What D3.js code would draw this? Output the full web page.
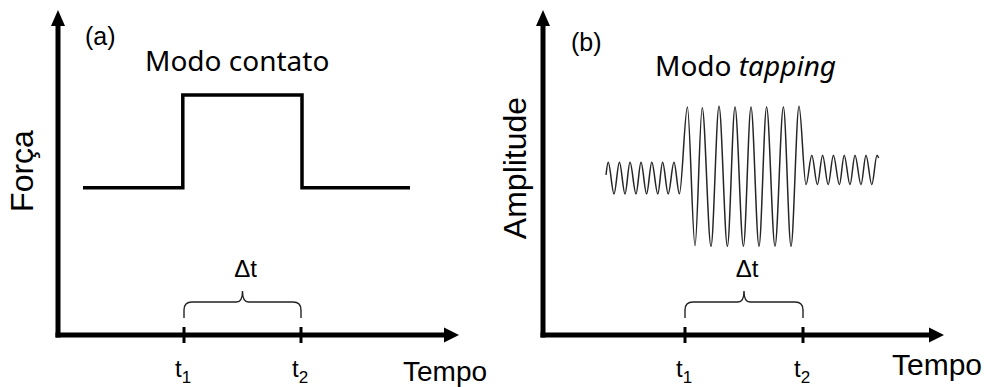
<!DOCTYPE html>
<html lang="pt">
<head>
  <meta charset="UTF-8" />
  <title>Modo contato / Modo tapping</title>
  <script src="https://d3js.org/d3.v7.min.js"></script>
  <style>
    body { margin: 0; background: #fff; }
    svg { display: block; }
    .lbl { font-family: 'Liberation Sans', Arial, sans-serif; fill: #000; }
    .title { font-family: 'Comic Sans MS', 'Noto Sans', sans-serif; fill: #000; }
  </style>
</head>
<body>
<div id="chart"></div>
<script>
  // (a) contact mode: force step, time in % of axis, force in % of axis height
  const forceTime = [6.25, 31.2, 61, 88];
  const forceLevel = [46, 75, 46, 46];

  // (b) tapping mode: extrema of the oscillation
  const ampTime = [15.75, 16.3, 17.75, 19.1, 20.5, 21.75, 23.25, 24.5, 25.9, 27.2, 28.7, 29.9, 31.3, 32.75, 34.1,
    36.1, 38, 39.8, 42, 44, 46.1, 48, 50.1, 52, 54, 55.9, 58, 60.1, 62, 64,
    65.75, 67.2, 68.6, 69.9, 71.3, 72.6, 74.1, 75.3, 76.75, 78, 79.5, 80.75, 82.2, 83.5, 83.9];
  const ampValue = [3, 21, -24, 21, -24, 21, -24, 21, -24, 21, -24, 21, -24, 21, -24,
    100, -98, 99, -99, 101, -99, 100, -99, 100, -99, 100, -99, 100, -99, 101,
    -11, 31, -11, 31, -11, 31, -11, 31, -11, 31, -11, 31, -11, 31, 27];

  const ticksA = [31.5, 60.75];
  const ticksB = [35.5, 65];
  const tickSubs = ["1", "2"];

  const width = 984, height = 387;
  const axisY = 335;

  const svg = d3.select("#chart").append("svg")
    .attr("width", width)
    .attr("height", height);

  const xA = d3.scaleLinear([0, 100], [58, 458]);
  const yA = d3.scaleLinear([0, 100], [335, 15]);
  const xB = d3.scaleLinear([0, 100], [543, 943]);
  const yB = d3.scaleLinear([-100, 100], [247, 107]);

  function drawAxes(x) {
    const x0 = x.range()[0], x1 = x.range()[1] + 1;
    const g = svg.append("g");
    // vertical shaft + head
    g.append("line")
      .attr("x1", x0).attr("x2", x0)
      .attr("y1", axisY + 2.5).attr("y2", 24)
      .attr("stroke", "#000").attr("stroke-width", 5);
    g.append("path")
      .attr("d", `M${x0},10 L${x0 + 7},26 L${x0 - 7},26 Z`)
      .attr("fill", "#000");
    // horizontal shaft + head
    g.append("line")
      .attr("x1", x0 - 2.5).attr("x2", x1 - 12)
      .attr("y1", axisY).attr("y2", axisY)
      .attr("stroke", "#000").attr("stroke-width", 5);
    g.append("path")
      .attr("d", `M${x1},${axisY} L${x1 - 15},${axisY - 7.5} L${x1 - 15},${axisY + 7.5} Z`)
      .attr("fill", "#000");
  }

  function drawTicks(x, ticks) {
    const g = svg.append("g");
    g.selectAll("line")
      .data(ticks)
      .join("line")
      .attr("x1", d => x(d)).attr("x2", d => x(d))
      .attr("y1", axisY - 8).attr("y2", axisY + 8)
      .attr("stroke", "#000").attr("stroke-width", 3);

    const t = g.selectAll("text")
      .data(ticks)
      .join("text")
      .attr("class", "lbl")
      .attr("x", d => x(d) - 9)
      .attr("y", 377)
      .attr("font-size", 24);
    t.append("tspan").text("t");
    t.append("tspan")
      .attr("dy", 6)
      .attr("font-size", 17)
      .text((d, i) => tickSubs[i]);

    // brace between the two ticks
    const xl = x(ticks[0]), xr = x(ticks[1]), xm = (xl + xr) / 2;
    const yb = 318, yt = 302, yc = 291, r = 8;
    g.append("path")
      .attr("d", `M${xl},${yb} V${yt + r} Q${xl},${yt} ${xl + r},${yt}
        H${xm - 6} Q${xm},${yt} ${xm},${yc} Q${xm},${yt} ${xm + 6},${yt}
        H${xr - r} Q${xr},${yt} ${xr},${yt + r} V${yb}`)
      .attr("fill", "none")
      .attr("stroke", "#222")
      .attr("stroke-width", 1.4);

    g.append("text")
      .attr("class", "lbl")
      .attr("x", xm + 3)
      .attr("y", 277)
      .attr("text-anchor", "middle")
      .attr("font-size", 24)
      .text("\u0394t");
  }

  // panel (a)
  drawAxes(xA);
  drawTicks(xA, ticksA);

  svg.append("path")
    .datum(d3.zip(forceTime, forceLevel))
    .attr("fill", "none")
    .attr("stroke", "#000")
    .attr("stroke-width", 3.5)
    .attr("d", d3.line().x(d => xA(d[0])).y(d => yA(d[1])).curve(d3.curveStepAfter));

  // panel (b)
  drawAxes(xB);
  drawTicks(xB, ticksB);

  svg.append("path")
    .datum(d3.zip(ampTime, ampValue))
    .attr("fill", "none")
    .attr("stroke", "#262626")
    .attr("stroke-width", 1.5)
    .attr("d", d3.line().x(d => xB(d[0])).y(d => yB(d[1])).curve(d3.curveMonotoneX));

  // labels
  svg.append("text").attr("class", "lbl").attr("x", 85).attr("y", 45)
    .attr("font-size", 25).text("(a)");
  svg.append("text").attr("class", "lbl").attr("x", 571).attr("y", 51)
    .attr("font-size", 25).text("(b)");

  svg.append("text").attr("class", "title").attr("x", 145).attr("y", 71)
    .attr("font-size", 28).text("Modo contato");
  const tb = svg.append("text").attr("class", "title").attr("x", 655).attr("y", 76)
    .attr("font-size", 28);
  tb.append("tspan").text("Modo ");
  tb.append("tspan").attr("font-style", "italic").text("tapping");

  svg.append("text").attr("class", "lbl")
    .attr("transform", "translate(33,171) rotate(-90)")
    .attr("text-anchor", "middle")
    .attr("font-size", 32).text("For\u00e7a");
  svg.append("text").attr("class", "lbl")
    .attr("transform", "translate(526,168) rotate(-90)")
    .attr("text-anchor", "middle")
    .attr("font-size", 32).text("Amplitude");

  svg.append("text").attr("class", "lbl").attr("x", 403).attr("y", 381)
    .attr("font-size", 28).text("Tempo");
  svg.append("text").attr("class", "lbl").attr("x", 892).attr("y", 375)
    .attr("font-size", 30).text("Tempo");
</script>
</body>
</html>
